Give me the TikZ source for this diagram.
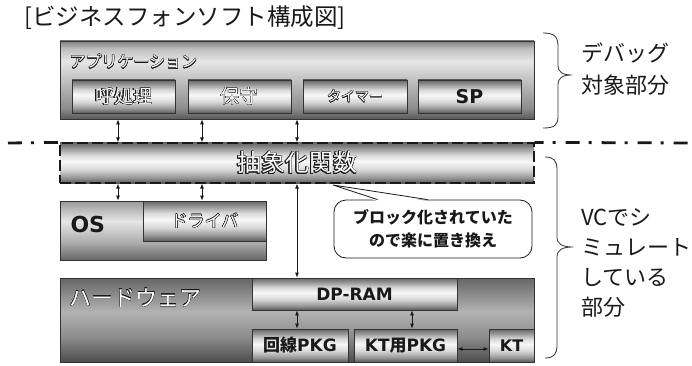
\documentclass[tikz,border=0pt]{standalone}
\usepackage{fontspec}
\setmainfont{Noto Sans CJK JP}
\newfontfamily\dvs{DejaVu Sans}
\usepackage[copies]{contour}
\contourlength{0.4pt}
\contournumber{16}
\usetikzlibrary{arrows.meta,calc}
\definecolor{g10}{gray}{0.10}
\definecolor{g20}{gray}{0.20}
\definecolor{g30}{gray}{0.30}
\definecolor{g35}{gray}{0.35}
\definecolor{g40}{gray}{0.40}
\definecolor{g50}{gray}{0.50}
\definecolor{g55}{gray}{0.55}
\definecolor{g60}{gray}{0.60}
\definecolor{g65}{gray}{0.65}
\definecolor{g68}{gray}{0.68}
\definecolor{g70}{gray}{0.70}
\definecolor{g75}{gray}{0.75}
\definecolor{g85}{gray}{0.85}
\definecolor{g88}{gray}{0.88}
\definecolor{g90}{gray}{0.90}
\definecolor{g97}{gray}{0.97}
\pgfdeclareverticalshading{band}{100bp}{color(0bp)=(g35); color(25bp)=(g35); color(32bp)=(g60); color(42bp)=(g85); color(52bp)=(g97); color(60bp)=(g85); color(68bp)=(g60); color(75bp)=(g40); color(100bp)=(g40)}
\pgfdeclareverticalshading{appsh}{100bp}{color(0bp)=(g35); color(25bp)=(g35); color(32bp)=(g55); color(45bp)=(g70); color(62bp)=(g90); color(70bp)=(g75); color(75bp)=(g50); color(100bp)=(g50)}
\pgfdeclareverticalshading{ossh}{100bp}{color(0bp)=(g40); color(25bp)=(g40); color(40bp)=(g68); color(58bp)=(g90); color(75bp)=(g60); color(100bp)=(g60)}
\pgfdeclareverticalshading{hwsh}{100bp}{color(0bp)=(g30); color(25bp)=(g30); color(40bp)=(g55); color(55bp)=(g70); color(75bp)=(g40); color(100bp)=(g40)}
\newcommand\olt[1]{\contour{g10}{\textcolor{white}{#1}}}
\newcommand\fs[2]{\fontsize{#1}{#2}\selectfont}
\tikzset{
  bx/.style={draw=g20, line width=0.8pt, inner sep=0pt, shade, shading=#1},
  arr/.style={{Latex[length=5pt,width=4pt]}-{Latex[length=5pt,width=4pt]}, line width=0.8pt, draw=g10},
  bld/.style={font=\dvs\bfseries\fs{#1}{#1}, text=g10},
  brace/.style={draw=g20, line width=0.8pt},
  dashdot/.style={draw=g10, line width=2.8pt, dash pattern=on 14pt off 9pt on 3pt off 10pt},
}
\begin{document}
\begin{tikzpicture}[x=1pt,y=-1pt]
\useasboundingbox (0,0) rectangle (692,366);
% title
\node[anchor=west, font=\fs{23.5}{24}, text=g10] (title) at (21,18) {[ビジネスフォンソフト構成図]};
% application
\node[bx=appsh, minimum width=474pt, minimum height=78pt] (app) at (297,80) {};
\node[anchor=west, font=\fs{16}{16}] (applbl) at (66,62) {\olt{アプリケーション}};
\node[bx=band, minimum width=103pt, minimum height=33pt, font=\fs{19}{19}] (kosh) at (123.5,96.5) {\olt{呼処理}};
\node[bx=band, minimum width=103pt, minimum height=33pt, font=\fs{19}{19}] (hosh) at (239.5,96.5) {\olt{保守}};
\node[bx=band, minimum width=104pt, minimum height=33pt, font=\fs{14}{14}] (timer) at (355,96.5) {\olt{タイマー}};
\node[bx=band, minimum width=103pt, minimum height=33pt] (sp) at (469.5,96.5) {};
\node[bld=19] (splbl) at (sp) {SP};
% abstract layer
\coordinate (dl) at (8,143);
\coordinate (dr) at (700,143);
\node[bx=band, draw=g10, line width=1.2pt, dash pattern=on 11pt off 4pt, minimum width=474pt, minimum height=40pt, font=\fs{24}{24}] (abs) at (297,163) {\olt{抽象化関数}};
\draw[dashdot] (dl) -- (abs.north west);
\draw[dashdot, dash phase=5pt] (abs.north east) -- (dr);
\draw[arr] (app.south -| 118,0) -- (abs.north -| 118,0);
\draw[arr] (app.south -| 202,0) -- (abs.north -| 202,0);
\draw[arr] (app.south -| 297,0) -- (abs.north -| 297,0);
% OS / driver
\node[bx=ossh, minimum width=206pt, minimum height=59pt] (os) at (163,230.5) {};
\node[bld=22, anchor=west] (oslbl) at (67,224) {OS};
\node[bx=band, minimum width=123pt, minimum height=40pt, font=\fs{17}{17}] (drv) at (204.5,221) {\olt{ドライバ}};
\draw[arr] (abs.south -| 118,0) -- (os.north -| 118,0);
\draw[arr] (abs.south -| 202,0) -- (drv.north -| 202,0);
% hardware
\node[bx=hwsh, minimum width=474pt, minimum height=84pt] (hw) at (297,320) {};
\node[anchor=west, font=\fs{22}{22}] (hwlbl) at (66,298) {\olt{ハードウェア}};
\node[bx=band, minimum width=205pt, minimum height=32pt] (dpram) at (354.5,294) {};
\node[bld=17] at (dpram) {DP-RAM};
\node[bx=band, minimum width=96pt, minimum height=33pt, font=\bfseries\fs{17}{17}, text=g10] (kaisen) at (300,345.5) {回線{\dvs PKG}};
\node[bx=band, minimum width=103pt, minimum height=33pt, font=\bfseries\fs{17}{17}, text=g10] (ktpkg) at (405.5,345.5) {{\dvs KT}用{\dvs PKG}};
\node[bx=band, minimum width=45pt, minimum height=33pt] (kt) at (511.5,345.5) {};
\node[bld=16] at (kt) {KT};
\draw[arr] (abs.south -| 297,0) -- (hw.north -| 297,0);
\draw[arr] (dpram.south -| 297,0) -- (kaisen.north -| 297,0);
\draw[arr] (dpram.south -| 412,0) -- (ktpkg.north -| 412,0);
\draw[arr] (ktpkg.east |- 0,349) -- (kt.west |- 0,349);
% callout
\node[draw=g10, fill=white, line width=0.8pt, rounded corners=12pt, minimum width=198pt, minimum height=58pt, align=center, font=\bfseries\fs{16}{23}, text=g10] (call) at (433,229) {ブロック化されていた\\ので楽に置き換え};
\coordinate (ctip) at (333,185);
\coordinate (p1) at ($(call.north west)+(44,0)$);
\coordinate (p2) at ($(call.north west)+(94,0)$);
\fill[white] (ctip) -- ($(p1)+(0,1.5)$) -- ($(p2)+(0,1.5)$) -- cycle;
\draw[draw=g10, line width=0.8pt] (p1) -- (ctip) -- (p2);
% braces
\draw[brace] (543,33) .. controls (555,33) and (558,37) .. (558,47) -- (558,65) .. controls (558,72) and (562,75) .. (572,75) .. controls (562,75) and (558,78) .. (558,85) -- (558,116) .. controls (558,125) and (555,128) .. (543,128);
\draw[brace] (545,157) .. controls (554,157) and (557,161) .. (557,170) -- (557,237) .. controls (557,244) and (562,247) .. (573,247) .. controls (562,247) and (557,250) .. (557,257) -- (557,345) .. controls (557,354) and (554,358) .. (545,358);
\node[anchor=west, align=left, font=\fs{22}{32}, text=g10] (dbg) at (578,69) {デバッグ\\対象部分};
\node[anchor=west, align=left, font=\fs{22}{30}, text=g10] (vc) at (578,263) {VCでシ\\ミュレート\\している\\部分};
\end{tikzpicture}
\end{document}
